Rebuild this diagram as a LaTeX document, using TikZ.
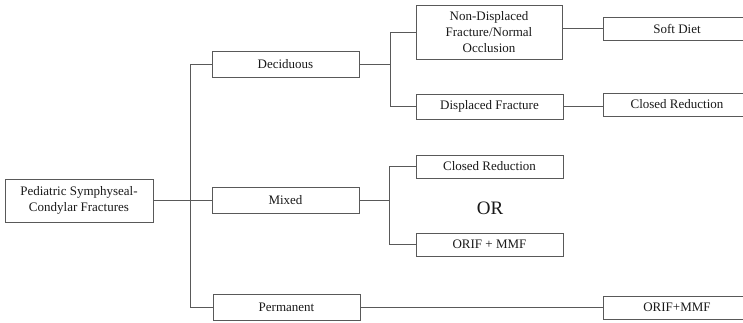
\documentclass[tikz,border=0pt]{standalone}
\usepackage{fontspec}
\setmainfont{Liberation Serif}
\begin{document}
\begin{tikzpicture}[x=1pt,y=-1pt,
  box/.style={draw=black!65,line width=0.8pt,minimum width=147pt,minimum height=26pt,inner sep=0pt,align=center,font=\fontsize{13}{16}\selectfont,text=black!90},
  link/.style={draw=black!65,line width=0.8pt}]
\clip (0,0) rectangle (743,322);
\node[box,minimum width=148pt,minimum height=43pt] (root) at (79,200.5) {Pediatric Symphyseal-\\Condylar Fractures};
\node[box] (dec) at (285.5,64) {Deciduous};
\node[box] (mix) at (285.5,200.5) {Mixed};
\node[box] (perm) at (286.5,307) {Permanent};
\node[box,minimum width=146pt,minimum height=54pt] (nd) at (489,32) {Non-Displaced\\Fracture/Normal\\Occlusion};
\node[box,minimum height=25pt] (disp) at (489.5,106.5) {Displaced Fracture};
\node[box,minimum height=23pt] (cr1) at (489.5,166.5) {Closed Reduction};
\node[box,minimum height=23pt] (orif1) at (489.5,244.5) {ORIF + MMF};
\node[font=\fontsize{19}{22}\selectfont,text=black!90] (or) at (490,208) {OR};
\node[box,minimum width=148pt,minimum height=23pt] (soft) at (677,28.5) {Soft Diet};
\node[box,minimum width=148pt,minimum height=23pt] (cr2) at (677,104.5) {Closed Reduction};
\node[box,minimum width=148pt,minimum height=23pt] (orif2) at (677,307.5) {ORIF+MMF};
\coordinate (j1) at (190,0);
\coordinate (j2) at (390,0);
\coordinate (j3) at (389,0);
\draw[link] (root.east) -- (root.east -| mix.west);
\draw[link] (dec.west) -- (dec.west -| j1) -- (perm.west -| j1) -- (perm.west);
\draw[link] (dec.east) -- (dec.east -| j2);
\draw[link] (nd.west) -- (nd.west -| j2) -- (disp.west -| j2) -- (disp.west);
\draw[link] (mix.east) -- (mix.east -| j3);
\draw[link] (cr1.west) -- (cr1.west -| j3) -- (orif1.west -| j3) -- (orif1.west);
\draw[link] (nd.east |- soft.west) -- (soft.west);
\draw[link] (disp.east) -- (disp.east -| cr2.west);
\draw[link] (perm.east) -- (perm.east -| orif2.west);
\end{tikzpicture}
\end{document}
